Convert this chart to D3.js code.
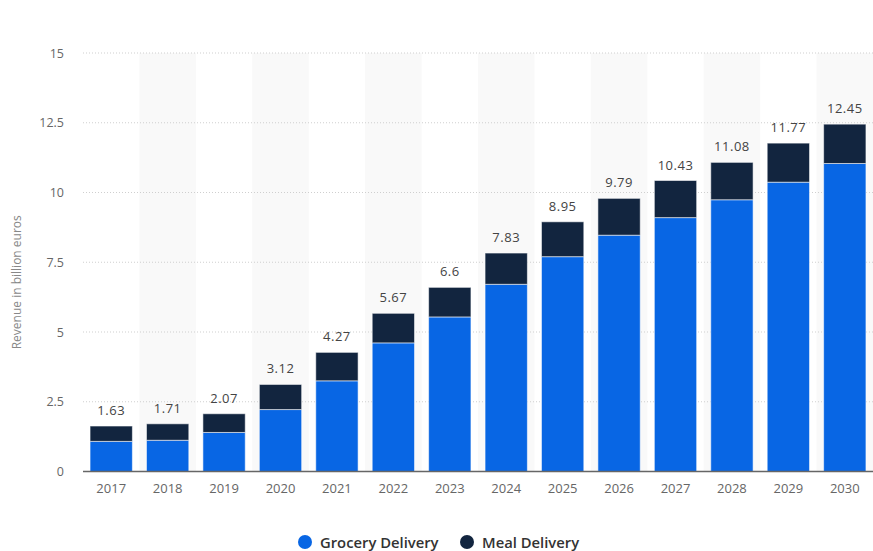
<!DOCTYPE html>
<html>
<head>
<meta charset="utf-8">
<script src="https://cdn.jsdelivr.net/npm/d3@7"></script>
<style>
  html, body { margin: 0; padding: 0; background: #fff; }
  svg { display: block; font-family: "Open Sans", "DejaVu Sans", sans-serif; }
</style>
</head>
<body>
<svg id="chart" width="873" height="551"></svg>
<script>
// Online food delivery revenue, billion euros
const years = ["2017","2018","2019","2020","2021","2022","2023","2024","2025","2026","2027","2028","2029","2030"];
const grocery = [1.08, 1.12, 1.40, 2.22, 3.25, 4.61, 5.54, 6.71, 7.70, 8.47, 9.10, 9.74, 10.37, 11.04];
const meal    = [0.55, 0.59, 0.67, 0.90, 1.02, 1.06, 1.06, 1.12, 1.25, 1.32, 1.33, 1.34, 1.40, 1.41];
const totals  = [1.63, 1.71, 2.07, 3.12, 4.27, 5.67, 6.6, 7.83, 8.95, 9.79, 10.43, 11.08, 11.77, 12.45];
const yTicks  = [0, 2.5, 5, 7.5, 10, 12.5, 15];
const yTickLabels = ["0", "2.5", "5", "7.5", "10", "12.5", "15"];
const seriesNames = ["Grocery Delivery", "Meal Delivery"];
const seriesColors = ["#0866e4", "#12253f"];

const svg = d3.select("#chart");
const plot = { left: 83, right: 873, top: 53, bottom: 471.5 };

const x = d3.scaleBand().domain(years).range([plot.left, plot.right])
  .paddingInner(0.25).paddingOuter(0.125);
const y = d3.scaleLinear().domain([0, 15]).range([plot.bottom, plot.top]);

// alternating column shading
svg.append("g").selectAll("rect")
  .data(years.filter((d, i) => i % 2 === 1))
  .join("rect")
  .attr("x", d => x(d) - x.step() * x.paddingInner() / 2)
  .attr("y", plot.top)
  .attr("width", x.step())
  .attr("height", plot.bottom - plot.top)
  .attr("fill", "#f9f9f9");

// horizontal grid
svg.append("g").selectAll("line")
  .data(yTicks.slice(1))
  .join("line")
  .attr("x1", plot.left).attr("x2", plot.right)
  .attr("y1", d => y(d)).attr("y2", d => y(d))
  .attr("stroke", "#cfcfcf").attr("stroke-width", 1)
  .attr("stroke-dasharray", "1,2");

// y axis labels
const yAxis = svg.append("g")
  .attr("transform", `translate(${plot.left - 19},0)`)
  .call(d3.axisLeft(y).tickValues(yTicks).tickFormat((d, i) => yTickLabels[i]).tickSize(0).tickPadding(0));
yAxis.select(".domain").remove();
yAxis.selectAll("text")
  .attr("fill", "#666").attr("font-size", "12.5px")
  .attr("font-family", "'Open Sans', sans-serif");

svg.append("text")
  .attr("transform", `translate(21,${(plot.top + plot.bottom) / 2 + 20}) rotate(-90)`)
  .attr("text-anchor", "middle")
  .attr("fill", "#888").attr("font-size", "12px")
  .text("Revenue in billion euros");

// stacked bars
const stackData = years.map((yr, i) => ({ year: yr, grocery: grocery[i], meal: meal[i] }));
const stacked = d3.stack().keys(["grocery", "meal"])(stackData);

svg.append("g").selectAll("g")
  .data(stacked)
  .join("g")
  .attr("fill", (d, i) => seriesColors[i])
  .selectAll("rect")
  .data(d => d)
  .join("rect")
  .attr("x", d => x(d.data.year))
  .attr("y", d => y(d[1]))
  .attr("width", x.bandwidth())
  .attr("height", d => y(d[0]) - y(d[1]))
  .attr("stroke", "#ffffff").attr("stroke-opacity", 0.55).attr("stroke-width", 1);

// baseline
svg.append("line")
  .attr("x1", plot.left).attr("x2", plot.right)
  .attr("y1", plot.bottom).attr("y2", plot.bottom)
  .attr("stroke", "#666").attr("stroke-width", 1.5);

// x axis labels
const xAxis = svg.append("g")
  .attr("transform", `translate(0,${plot.bottom + 12})`)
  .call(d3.axisBottom(x).tickSize(0).tickPadding(0));
xAxis.select(".domain").remove();
xAxis.selectAll("text")
  .attr("fill", "#666").attr("font-size", "13px")
  .attr("font-family", "'Open Sans', sans-serif");

// total labels
svg.append("g").selectAll("text")
  .data(years)
  .join("text")
  .attr("x", d => x(d) + x.bandwidth() / 2)
  .attr("y", (d, i) => y(totals[i]) - 11)
  .attr("text-anchor", "middle")
  .attr("fill", "#444").attr("font-size", "13px")
  .attr("letter-spacing", "0.5px")
  .text((d, i) => totals[i]);

// legend
const legend = svg.append("g").attr("transform", "translate(0,542)");
const legendX = [305, 467];
seriesNames.forEach((name, i) => {
  legend.append("circle")
    .attr("cx", legendX[i]).attr("cy", 0).attr("r", 7)
    .attr("fill", seriesColors[i]);
  legend.append("text")
    .attr("x", legendX[i] + 15).attr("y", 5.5)
    .attr("fill", "#333").attr("font-size", "14.8px").attr("font-weight", 600)
    .text(name);
});
</script>
</body>
</html>
